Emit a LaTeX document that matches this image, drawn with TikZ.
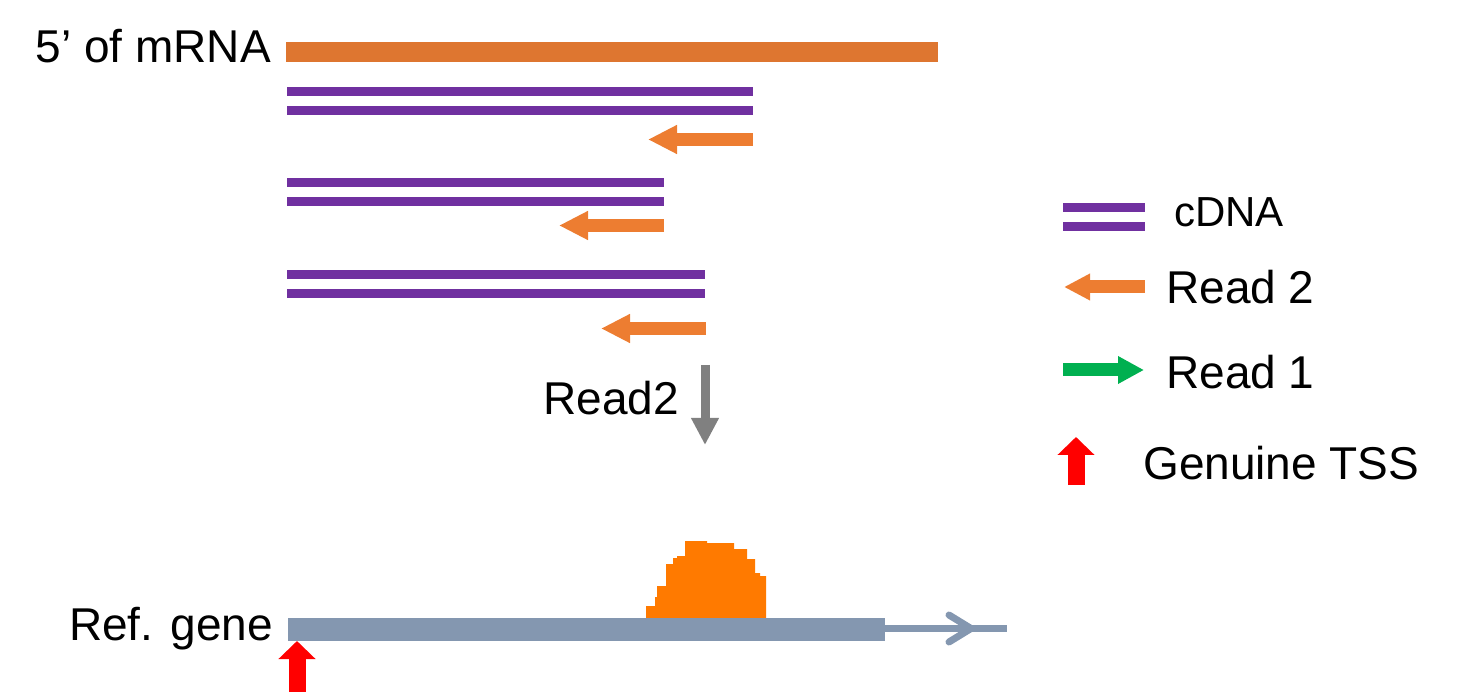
\documentclass[tikz,border=0pt]{standalone}
\usepackage{fontspec}
\setmainfont{Liberation Sans}
\usetikzlibrary{arrows.meta}
\definecolor{mrnaorange}{RGB}{222,118,48}
\definecolor{readorange}{RGB}{237,125,49}
\definecolor{cpurple}{RGB}{112,48,160}
\definecolor{rgreen}{RGB}{0,176,80}
\definecolor{tssred}{RGB}{255,0,0}
\definecolor{genegray}{RGB}{132,151,176}
\definecolor{peakorange}{RGB}{255,122,0}
\definecolor{flowgray}{RGB}{128,128,128}
\tikzset{
  cdna/.style={draw=cpurple, line width=9pt},
  readtwo/.style={draw=readorange, line width=13pt, -{Triangle[width=27pt,length=29pt]}},
  readone/.style={draw=rgreen, line width=13pt, -{Triangle[width=26pt,length=26pt]}},
  tss/.style={draw=tssred, line width=17pt, -{Triangle[width=36pt,length=18pt]}},
  flow/.style={draw=flowgray, line width=9pt, -{Triangle[width=26pt,length=27pt]}},
  lbl/.style={inner sep=0pt, font=\fontsize{46}{54}\selectfont},
}
\begin{document}
\begin{tikzpicture}[x=1pt,y=-1pt]
\useasboundingbox (0,0) rectangle (1457,692);
% labels
\node[lbl, anchor=base east] (mlab) at (271,63) {5’ of mRNA};
\node[lbl, anchor=base east] (glab) at (273,640) {Ref. gene};
\node[lbl, anchor=base east] (flab) at (679,415) {Read2};
% mRNA
\coordinate (m1) at (286,52); \coordinate (m2) at (938,52);
\draw[draw=mrnaorange, line width=20pt] (m1) -- (m2);
% cDNA group 1
\coordinate (a1) at (287,91.5); \coordinate (a2) at (753,91.5);
\coordinate (b1) at (287,110.5); \coordinate (b2) at (753,110.5);
\draw[cdna] (a1) -- (a2); \draw[cdna] (b1) -- (b2);
\coordinate (r1s) at (753,139.5); \coordinate (r1e) at (648,139.5);
\draw[readtwo] (r1s) -- (r1e);
% cDNA group 2
\coordinate (c1) at (287,182.5); \coordinate (c2) at (664,182.5);
\coordinate (d1) at (287,201.5); \coordinate (d2) at (664,201.5);
\draw[cdna] (c1) -- (c2); \draw[cdna] (d1) -- (d2);
\coordinate (r2s) at (664,225.5); \coordinate (r2e) at (559,225.5);
\draw[readtwo] (r2s) -- (r2e);
% cDNA group 3
\coordinate (e1) at (287,274.5); \coordinate (e2) at (705,274.5);
\coordinate (f1) at (287,293.5); \coordinate (f2) at (705,293.5);
\draw[cdna] (e1) -- (e2); \draw[cdna] (f1) -- (f2);
\coordinate (r3s) at (706,328.5); \coordinate (r3e) at (601,328.5);
\draw[readtwo] (r3s) -- (r3e);
% flow arrow
\coordinate (fl1) at (705,365); \coordinate (fl2) at (705,445);
\draw[flow] (fl1) -- (fl2);
% peak
\fill[peakorange] (646,619) -- (646,606) -- (655,606) -- (655,597) -- (657,597) -- (657,586) -- (666,586) -- (666,564) -- (673,564) -- (673,558) -- (677,558) -- (677,556) -- (685,556) -- (685,541) -- (707,541) -- (707,543) -- (734,543) -- (734,549) -- (747,549) -- (747,559) -- (755,559) -- (755,573) -- (760,573) -- (760,576) -- (766,576) -- (766,619) -- cycle;
% gene
\coordinate (g1) at (288,629.5); \coordinate (g2) at (885,629.5);
\draw[draw=genegray, line width=23pt] (g1) -- (g2);
\coordinate (gl1) at (885,628.5); \coordinate (gl2) at (1007,628.5);
\draw[draw=genegray, line width=7pt] (gl1) -- (gl2);
\coordinate (ch1) at (949,615); \coordinate (ch2) at (971,628.5); \coordinate (ch3) at (949,642);
\draw[draw=genegray, line width=7pt, line cap=round, line join=miter] (ch1) -- (ch2) -- (ch3);
% TSS arrow
\coordinate (t1) at (297,692); \coordinate (t2) at (297,641);
\draw[tss] (t1) -- (t2);
% legend
\coordinate (la1) at (1063,207.5); \coordinate (la2) at (1145,207.5);
\coordinate (lb1) at (1063,226.5); \coordinate (lb2) at (1145,226.5);
\draw[cdna] (la1) -- (la2); \draw[cdna] (lb1) -- (lb2);
\node[lbl, anchor=base west, font=\fontsize{42}{50}\selectfont] (lcdna) at (1174,227) {cDNA};
\coordinate (lr2s) at (1145,287); \coordinate (lr2e) at (1064,287);
\draw[readtwo, -{Triangle[width=25pt,length=26pt]}] (lr2s) -- (lr2e);
\node[lbl, anchor=base west] (lread2) at (1166,304) {Read 2};
\coordinate (lr1s) at (1063,370); \coordinate (lr1e) at (1144,370);
\draw[readone] (lr1s) -- (lr1e);
\node[lbl, anchor=base west] (lread1) at (1166,389) {Read 1};
\coordinate (lt1) at (1076,485); \coordinate (lt2) at (1076,437);
\draw[tss] (lt1) -- (lt2);
\node[lbl, anchor=base west] (ltss) at (1143,479) {Genuine TSS};
\end{tikzpicture}
\end{document}
